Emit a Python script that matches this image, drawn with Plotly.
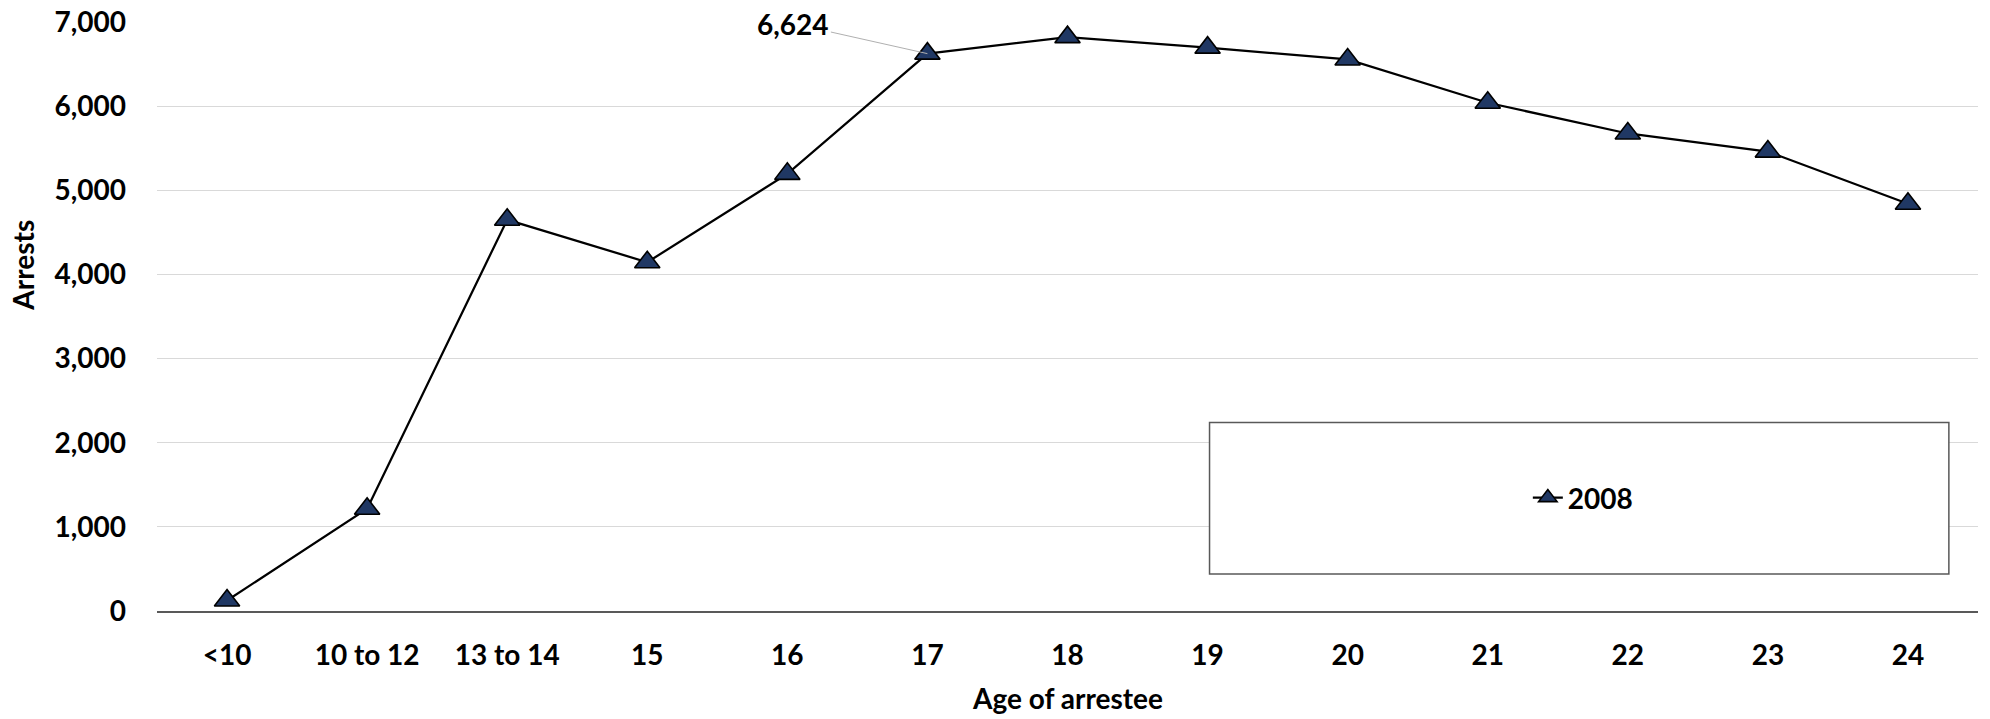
import plotly.graph_objects as go

# ---- data ----
categories = ["<10", "10 to 12", "13 to 14", "15", "16", "17", "18",
              "19", "20", "21", "22", "23", "24"]
arrests_2008 = [125, 1215, 4650, 4145, 5195, 6624, 6820,
                6695, 6555, 6040, 5675, 5460, 4840]
series_name = "2008"
y_ticks = [0, 1000, 2000, 3000, 4000, 5000, 6000, 7000]
labelled_category = "17"

FONT = "Lato, 'Open Sans', sans-serif"
NAVY = "#203864"

fig = go.Figure()
fig.add_trace(go.Scatter(
    x=categories, y=arrests_2008, name=series_name,
    mode="lines+markers",
    line=dict(color="#000000", width=2.25),
    marker=dict(symbol="triangle-up", size=22, color=NAVY,
                line=dict(color="#000000", width=1.6)),
    cliponaxis=False,
))

idx = categories.index(labelled_category)
annotations = [
    # data label with leader line (x given as category index)
    dict(x=idx, y=arrests_2008[idx], xref="x", yref="y",
         text=f"{arrests_2008[idx]:,}", showarrow=True, arrowhead=0,
         arrowwidth=1, arrowcolor="#b0b0b0", ax=-134, ay=-30, standoff=0,
         font=dict(family=FONT, size=28, color="#000000", weight="bold")),
    # y axis title
    dict(x=-0.0736, y=0.588, xref="paper", yref="paper", text="Arrests",
         showarrow=False, textangle=-90, xanchor="center", yanchor="middle",
         font=dict(family=FONT, size=28, color="#000000", weight="bold")),
    # x axis title
    dict(x=0.5, y=-0.148, xref="paper", yref="paper", text="Age of arrestee",
         showarrow=False, xanchor="center", yanchor="middle",
         font=dict(family=FONT, size=28, color="#000000", weight="bold")),
]

fig.update_layout(
    width=1990, height=719,
    margin=dict(l=157, r=12, t=22, b=108, autoexpand=False),
    paper_bgcolor="#ffffff", plot_bgcolor="#ffffff",
    showlegend=True,
    legend=dict(x=0.783, y=0.192, xanchor="center", yanchor="middle",
                bgcolor="rgba(0,0,0,0)", borderwidth=0,
                font=dict(family=FONT, size=28, color="#000000", weight="bold")),
    annotations=annotations,
    shapes=[dict(type="rect", xref="paper", yref="paper",
                 x0=0.578, x1=0.984, y0=0.063, y1=0.320,
                 line=dict(color="#595959", width=1.5),
                 fillcolor="#ffffff", layer="above")],
    xaxis=dict(type="category", range=[-0.5, len(categories) - 0.5],
               automargin=False,
               showgrid=False, showline=True,
               linecolor="#595959", linewidth=2, ticks="", tickangle=0,
               ticklabelstandoff=18, zeroline=False,
               tickfont=dict(family=FONT, size=28, color="#000000", weight="bold")),
    yaxis=dict(range=[0, 7000], tickvals=y_ticks, tickformat=",d",
               automargin=False,
               showgrid=True, gridcolor="#d9d9d9", gridwidth=1,
               showline=False, zeroline=False, ticks="",
               ticklabelstandoff=30,
               tickfont=dict(family=FONT, size=28, color="#000000", weight="bold")),
)

fig.write_html(
    "out.html",
    config={"displayModeBar": False},
    post_script="document.body.style.margin='0';document.body.style.overflow='hidden';",
)
